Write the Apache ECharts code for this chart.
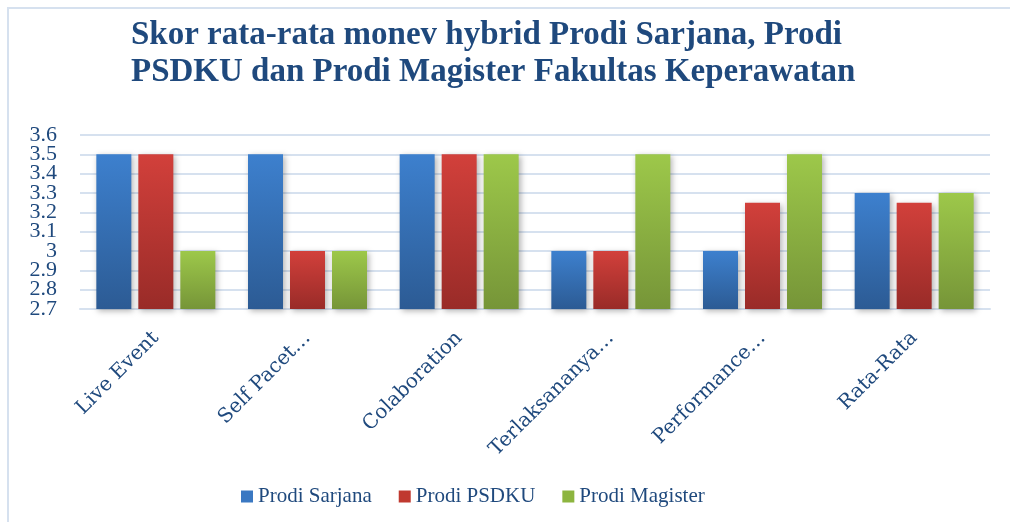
<!DOCTYPE html>
<html><head><meta charset="utf-8">
<script src="https://cdn.jsdelivr.net/npm/echarts@6/dist/echarts.min.js"></script>
<style>html,body{margin:0;padding:0;background:#fff}#c{width:1010px;height:522px}</style>
</head><body><div id="c"></div>
<script>
const categories = ['Live Event', 'Self Pacet…', 'Colaboration', 'Terlaksananya…', 'Performance…', 'Rata-Rata'];
const seriesNames = ['Prodi Sarjana', 'Prodi PSDKU', 'Prodi Magister'];
const sarjana = [3.5, 3.5, 3.5, 3.0, 3.0, 3.3];
const psdku = [3.5, 3.0, 3.5, 3.0, 3.25, 3.25];
const magister = [3.0, 3.0, 3.5, 3.5, 3.5, 3.3];
const yMin = 2.7, yMax = 3.6, yStep = 0.1;
const titleText = 'Skor rata-rata monev hybrid Prodi Sarjana, Prodi\nPSDKU dan Prodi Magister Fakultas Keperawatan';

const textColor = '#1F497D';
const font = 'Liberation Serif';
function grad(top, bottom) {
  return new echarts.graphic.LinearGradient(0, 0, 0, 1, [{offset: 0, color: top}, {offset: 1, color: bottom}]);
}
const colors = [grad('#3D80CE', '#2C5B94'), grad('#D2403B', '#992B28'), grad('#9DC84A', '#769538')];
const legendColors = ['#3A78C2', '#C0392F', '#8DB53F'];
const datas = [sarjana, psdku, magister];
const fmt = v => String(Number(v.toFixed(1)));
const labelStyle = {fontFamily: font, fontSize: 22, color: textColor, margin: 23};

const chart = echarts.init(document.getElementById('c'), null, {renderer: 'canvas'});
chart.setOption({
  animation: false,
  graphic: [{
    type: 'rect', shape: {x: 8, y: 8, width: 1100, height: 600},
    style: {fill: 'none', stroke: '#D6E1EF', lineWidth: 2}, z: -1
  }],
  title: {
    text: titleText, left: 126, top: 12,
    textStyle: {fontFamily: font, fontWeight: 'bold', fontSize: 33, color: textColor, lineHeight: 37}
  },
  legend: {
    left: 236, top: 481, itemWidth: 12, itemHeight: 12, itemGap: 27, icon: 'rect',
    textStyle: {fontFamily: font, fontSize: 21, color: textColor},
    data: seriesNames.map((n, i) => ({name: n, itemStyle: {color: legendColors[i]}}))
  },
  grid: {left: 80, right: 20, top: 135, bottom: 213},
  xAxis: {
    type: 'category', data: categories,
    axisLine: {lineStyle: {color: '#D6E1EF', width: 2}},
    axisTick: {show: false},
    axisLabel: {rotate: 45, interval: 0, fontFamily: 'DejaVu Serif', fontSize: 20, color: textColor, margin: 26}
  },
  yAxis: [{
    type: 'value', min: yMin, max: yMax, interval: yStep,
    axisLine: {show: false}, axisTick: {show: false},
    splitLine: {lineStyle: {color: '#D6E1EF', width: 2}},
    axisLabel: Object.assign({showMinLabel: false, showMaxLabel: false, formatter: fmt}, labelStyle)
  }, {
    type: 'value', position: 'left', min: yMin, max: yMax, interval: yStep,
    axisLine: {show: false}, axisTick: {show: false}, splitLine: {show: false},
    axisLabel: Object.assign({showMinLabel: true, showMaxLabel: true,
      formatter: v => (Math.abs(v - yMin) < 1e-6 || Math.abs(v - yMax) < 1e-6) ? fmt(v) : ''}, labelStyle)
  }],
  series: seriesNames.map((n, i) => ({
    name: n, type: 'bar', yAxisIndex: 0, data: datas[i], barWidth: 35, barGap: '20%',
    itemStyle: {color: colors[i], shadowColor: 'rgba(0,0,0,0.3)', shadowBlur: 6, shadowOffsetX: 2, shadowOffsetY: 2}
  }))
});
</script></body></html>
